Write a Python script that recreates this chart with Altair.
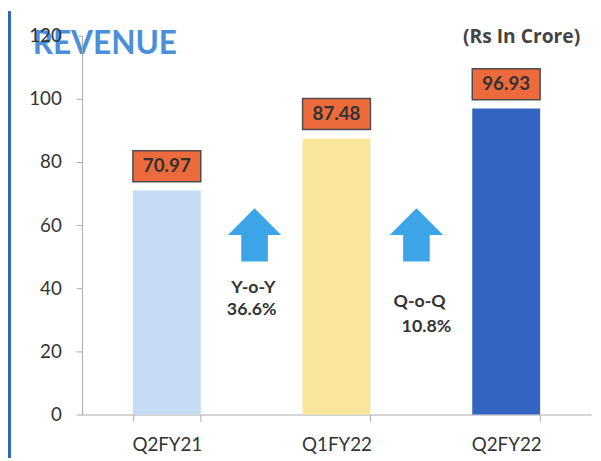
import altair as alt
import pandas as pd

# ---- data ----
quarters = ["Q2FY21", "Q1FY22", "Q2FY22"]
revenue = [70.97, 87.48, 96.93]
bar_colors = ["#c6dcf5", "#f9e69b", "#3464c2"]
y_ticks = [0, 20, 40, 60, 80, 100, 120]

growth_labels = ["Y-o-Y", "36.6%", "Q-o-Q", "10.8%"]
growth_x = [1.01, 1.0, 1.99, 2.03]
growth_y = [40.0, 33.1, 35.6, 27.8]
arrow_x = [1.017, 1.971]
arrow_y = [56.9, 56.9]

title_text = ["REVENUE"]
unit_text = ["(Rs In Crore)"]

FONT = "Lato"
W, H = 516, 384

df = pd.DataFrame({"quarter": quarters, "revenue": revenue})
gdf = pd.DataFrame({"label": growth_labels, "gx": growth_x, "gy": growth_y})
adf = pd.DataFrame({"ax": arrow_x, "ay": arrow_y})
tdf = pd.DataFrame({"t": title_text})
udf = pd.DataFrame({"t": unit_text})

xenc = alt.X(
    "quarter:N",
    sort=quarters,
    scale=alt.Scale(domain=quarters, paddingInner=0.6, paddingOuter=0.3),
    axis=alt.Axis(
        title=None, labelAngle=0, labelFont=FONT, labelFontSize=19,
        labelColor="#333333", labelPadding=14, tickSize=7, tickBand="extent",
        domainColor="#aaaaaa", tickColor="#aaaaaa", grid=False,
    ),
)
yscale = alt.Scale(domain=[0, 120], nice=False)

bars = alt.Chart(df).mark_bar().encode(
    x=xenc,
    y=alt.Y(
        "revenue:Q", scale=yscale,
        axis=alt.Axis(
            title=None, values=y_ticks, labelFont=FONT, labelFontSize=19,
            labelColor="#333333", labelPadding=15, tickSize=6, grid=False,
            domainColor="#aaaaaa", tickColor="#aaaaaa", zindex=1,
        ),
    ),
    color=alt.Color("quarter:N", scale=alt.Scale(domain=quarters, range=bar_colors), legend=None),
)

boxes = alt.Chart(df).transform_calculate(
    lo="datum.revenue + 2.8", hi="datum.revenue + 12.6"
).mark_bar(color="#ec6a3c", stroke="#4d4d4d", strokeWidth=1.5).encode(
    x=alt.X("quarter:N", sort=quarters),
    y=alt.Y("lo:Q", scale=yscale),
    y2="hi:Q",
)

box_text = alt.Chart(df).transform_calculate(
    mid="datum.revenue + 7.7"
).mark_text(font=FONT, fontSize=19, fontWeight="bold", color="#333333", baseline="middle").encode(
    x=alt.X("quarter:N", sort=quarters),
    y=alt.Y("mid:Q", scale=yscale),
    text=alt.Text("revenue:Q", format=".2f"),
)

main = alt.layer(bars, boxes, box_text)

xq = alt.Scale(domain=[0, 3], nice=False, zero=False)
arrow_path = "M0,-1 L1,0 L0.5,0 L0.5,1 L-0.5,1 L-0.5,0 L-1,0 Z"
arrows = alt.Chart(adf).mark_point(
    shape=arrow_path, filled=True, size=2916, color="#3ba5e8", opacity=1
).encode(
    x=alt.X("ax:Q", scale=xq, axis=None),
    y=alt.Y("ay:Q", scale=yscale),
)

growth = alt.Chart(gdf).mark_text(
    font=FONT, fontSize=18, fontWeight="bold", color="#333333", baseline="middle"
).encode(
    x=alt.X("gx:Q", scale=xq, axis=None),
    y=alt.Y("gy:Q", scale=yscale),
    text="label:N",
)

title = alt.Chart(tdf).mark_text(
    font=FONT, fontSize=32, fontWeight="bold", color="#4a8fd9",
    align="left", baseline="alphabetic",
).encode(x=alt.value(-50), y=alt.value(19), text="t:N")

units = alt.Chart(udf).mark_text(
    font="Open Sans", fontSize=19.5, fontWeight="bold", color="#444444",
    align="right", baseline="middle",
).encode(x=alt.value(505), y=alt.value(1), text="t:N")

frame = alt.Chart(tdf).mark_rect(color="#2f66c4").encode(
    x=alt.value(-75), x2=alt.value(-72), y=alt.value(-25), y2=alt.value(428)
)

annot = alt.layer(arrows, growth)

chart = alt.layer(title, main, annot, units, frame).resolve_scale(x="independent").properties(
    width=W, height=H,
    autosize=alt.AutoSizeParams(type="none"),
    padding={"left": 75, "top": 25, "right": 2, "bottom": 44},
    background="#ffffff",
).configure_view(stroke=None)

chart.save("out.html", embed_options={"renderer": "svg", "actions": False})
